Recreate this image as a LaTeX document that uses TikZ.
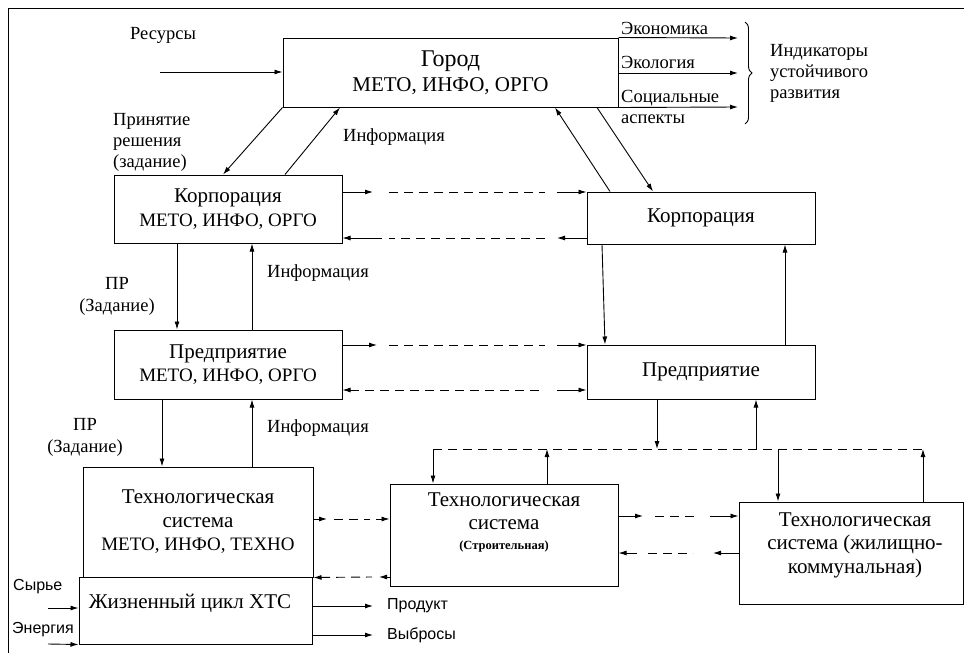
\documentclass[tikz,border=0pt]{standalone}
\usepackage{fontspec}
\setmainfont{Liberation Serif}
\newfontfamily\sansf{Liberation Sans}
\usetikzlibrary{arrows.meta,decorations.pathreplacing}
\newcommand{\capsline}[1]{{\fontsize{19}{23.5}\selectfont #1}}
\begin{document}
\begin{tikzpicture}[x=1pt,y=-1pt,
  box/.style={draw, line width=1pt, fill=white, inner sep=0pt, align=center,
              font=\fontsize{21}{23.5}\selectfont},
  arr/.style={line width=0.9pt, -{Latex[length=8pt,width=5pt]}},
  ln/.style={line width=0.9pt},
  dsh/.style={line width=0.9pt, dash pattern=on 9pt off 6pt},
  bt/.style={inner sep=0pt, align=center, font=\fontsize{21}{23.5}\selectfont},
  lbl/.style={inner sep=0pt, align=left, font=\fontsize{18.5}{21}\selectfont},
  lblc/.style={inner sep=0pt, align=center, font=\fontsize{18.5}{22}\selectfont},
  sl/.style={inner sep=0pt, font=\sansf\fontsize{16}{19}\selectfont}]
\useasboundingbox (0,0) rectangle (964,653);
% frame
\draw[ln] (8,653) -- (8,8) -- (964,8);

% boxes
\node[box, minimum width=335, minimum height=69, font=\fontsize{21}{25}\selectfont] (gorod) at (450.5,72.5) {{\fontsize{24}{25}\selectfont Город}\\МЕТО, ИНФО, ОРГО};
\node[box, minimum width=228, minimum height=68] (kl) at (228,209) {Корпорация\\\capsline{МЕТО, ИНФО, ОРГО}};
\node[box, minimum width=228, minimum height=52] (kr) at (701,218) {Корпорация};
\node[box, minimum width=228, minimum height=69] (pl) at (228,364.5) {Предприятие\\\capsline{МЕТО, ИНФО, ОРГО}};
\node[box, minimum width=228, minimum height=54] (pr) at (701,372) {Предприятие};
\node[box, minimum width=230, minimum height=110] (tl) at (198,522) {Технологическая\\система\\\capsline{МЕТО, ИНФО, ТЕХНО}};
\node[box, minimum width=233, minimum height=67] (zh) at (195.5,610.5) {};
\node[bt] (zht) at (190,603) {Жизненный цикл ХТС};
\node[box, minimum width=228, minimum height=102] (tm) at (504,535) {};
\node[bt] (tmt) at (504,522) {Технологическая\\система\\[-4pt]{\fontsize{12.5}{14}\selectfont\bfseries(Строительная)}};
\node[box, minimum width=224, minimum height=102] (tr) at (851,553) {};
\node[bt] (trt) at (855,545) {Технологическая\\система (жилищно-\\коммунальная)};

% labels
\node[lbl, anchor=west] (res) at (130,35) {Ресурсы};
\node[lbl, anchor=west] (prin) at (113,142) {Принятие\\решения\\(задание)};
\node[lbl, anchor=west] (inf1) at (343,137) {Информация};
\node[lbl, anchor=west] (inf2) at (267,273) {Информация};
\node[lbl, anchor=west] (inf3) at (267,428) {Информация};
\node[lblc] (pr1) at (117,296) {ПР\\(Задание)};
\node[lblc] (pr2) at (85,437) {ПР\\(Задание)};
\node[lbl, anchor=west] (eco) at (621,28) {Экономика};
\node[lbl, anchor=west] (ecol) at (621,62) {Экология};
\node[lbl, anchor=west] (soc) at (621,107) {Социальные\\аспекты};
\node[lbl, anchor=west] (ind) at (770,73) {Индикаторы\\устойчивого\\развития};
\node[sl, anchor=west] (syr) at (13,587) {Сырье};
\node[sl, anchor=west] (ener) at (12,630) {Энергия};
\node[sl, anchor=west] (prod) at (387,606) {Продукт};
\node[sl, anchor=west] (vyb) at (387,635) {Выбросы};

% resources and indicators
\coordinate (resin) at (160,72);
\draw[arr] (resin) -- (gorod.west |- resin);
\coordinate (i1) at (738,38);
\coordinate (i2) at (738,73);
\coordinate (i3) at (738,107);
\draw[arr] (gorod.north east) -- (i1);
\draw[arr] (gorod.east |- i2) -- (i2);
\draw[arr] (gorod.south east) -- (i3);
\draw[ln, decorate, decoration={brace, amplitude=7pt}] (745,22) -- (745,124);

% city <-> corporations
\draw[arr] (gorod.south west) -- (kl.north -| 223,0);
\draw[arr] (kl.north -| 285,0) -- (gorod.south -| 340,0);
\draw[arr] (kr.north -| 610,0) -- (gorod.south -| 555,0);
\draw[arr] (gorod.south -| 597,0) -- (kr.north -| 653,0);

% vertical links left
\draw[arr] (kl.south -| 177,0) -- (pl.north -| 177,0);
\draw[arr] (pl.north -| 252,0) -- (kl.south -| 252,0);
\draw[arr] (pl.south -| 162,0) -- (tl.north -| 162,0);
\draw[arr] (tl.north -| 252,0) -- (pl.south -| 252,0);

% vertical links right
\draw[arr] (kr.south -| 602,0) -- (pr.north -| 605,0);
\draw[arr] (pr.north -| 785,0) -- (kr.south -| 785,0);

% corporation row
\draw[arr] (kl.east |- 0,192) -- (373,192);
\draw[dsh] (389,192) -- (545,192);
\draw[arr] (557,192) -- (kr.west |- 0,192);
\draw[arr] (kr.west |- 0,238) -- (557,238);
\draw[dsh] (545,238) -- (389,238);
\draw[arr] (382,238) -- (kl.east |- 0,238);

% enterprise row
\draw[arr] (pl.east |- 0,345) -- (377,345);
\draw[dsh] (389,345) -- (545,345);
\draw[arr] (557,345) -- (pr.west |- 0,345);
\draw[dsh, {Latex[length=8pt,width=5pt]}-] (pl.east |- 0,390) -- (545,390);
\draw[arr] (557,390) -- (pr.west |- 0,390);

% bus
\coordinate (busL) at (433,449);
\coordinate (busR) at (923,449);
\draw[dsh] (busL) -- (busR);
\draw[arr] (busL) -- (tm.north -| busL);
\draw[arr] (tr.north -| busR) -- (busR);
\draw[arr] (pr.south -| 657,0) -- (busL -| 657,0);
\draw[arr] (busL -| 756,0) -- (pr.south -| 756,0);
\draw[arr] (tm.north -| 547,0) -- (busL -| 547,0);
\draw[arr] (busL -| 778,0) -- (tr.north -| 778,0);

% tech rows
\draw[arr] (tl.east |- 0,519) -- (327,519);
\draw[dsh] (334,519) -- (370,519);
\draw[arr] (376,519) -- (tm.west |- 0,519);
\draw[dsh, {Latex[length=8pt,width=5pt]}-] (tl.south east) -- (372,577);
\draw[arr] (tm.west |- 0,577) -- (379,577);

\draw[arr] (tm.east |- 0,516) -- (643,516);
\draw[dsh] (655,516) -- (697,516);
\draw[arr] (710,516) -- (tr.west |- 0,516);
\draw[arr] (637,553) -- (tm.east |- 0,553);
\draw[dsh] (648,553) -- (693,553);
\draw[arr] (tr.west |- 0,553) -- (713,553);

% life cycle inputs/outputs
\draw[arr] (48,608) -- (zh.west |- 0,608);
\draw[arr] (48,644) -- (zh.south west);
\draw[arr] (zh.east |- 0,606) -- (373,606);
\draw[arr] (zh.east |- 0,635) -- (373,635);
\end{tikzpicture}
\end{document}
